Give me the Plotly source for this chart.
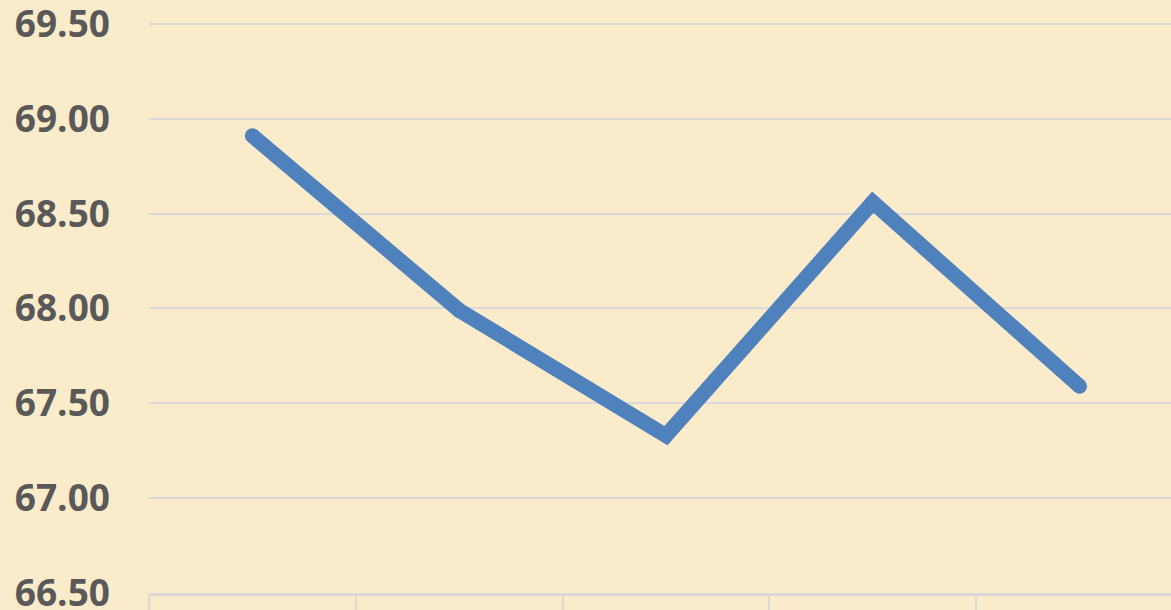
import plotly.graph_objects as go

categories = ["1", "2", "3", "4", "5"]
values = [68.91, 67.99, 67.33, 68.56, 67.59]
y_ticks = [66.5, 67.0, 67.5, 68.0, 68.5, 69.0, 69.5]
y_tick_labels = ["66.50", "67.00", "67.50", "68.00", "68.50", "69.00", "69.50"]

line_color = "#4F81BD"
bg = "#FAEBCB"
grid = "#D9D9D9"

fig = go.Figure()
fig.add_trace(go.Scatter(
    x=categories, y=values, mode="lines+markers",
    line=dict(color=line_color, width=15),
    marker=dict(color=line_color, size=15, line=dict(width=0)),
    hoverinfo="skip", showlegend=False,
))

fig.update_layout(
    width=1171, height=610,
    margin=dict(l=149, r=0, t=22, b=17, autoexpand=False),
    paper_bgcolor=bg, plot_bgcolor=bg,
    font=dict(family="Open Sans", color="#595959"),
)
fig.update_xaxes(
    type="category", range=[-0.5, 4.442], automargin=False,
    showticklabels=False, showgrid=False, zeroline=False,
    showline=True, linecolor=grid, linewidth=2.5,
    ticks="outside", tickson="boundaries", ticklen=22, tickwidth=2, tickcolor=grid,
)
fig.update_yaxes(
    range=[66.5, 69.51], tickvals=y_ticks, ticktext=y_tick_labels, automargin=False,
    showgrid=True, gridcolor=grid, gridwidth=2, zeroline=False, showline=False,
    ticks="", ticklabelstandoff=38, ticklabeloverflow="allow",
    tickfont=dict(family="Open Sans", size=37, color="#595959", weight="bold"),
)

fig.write_html(
    "out.html",
    config={"displayModeBar": False, "staticPlot": True},
    post_script="document.body.style.margin='0';document.body.style.padding='0';document.documentElement.style.overflow='hidden';",
)
